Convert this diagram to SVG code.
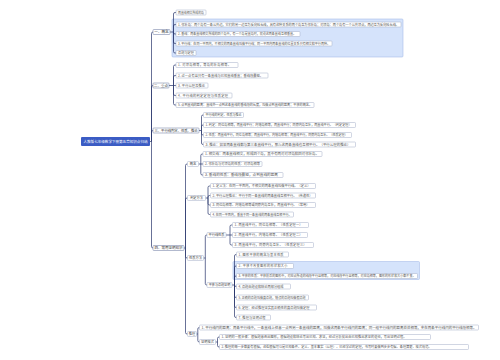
<svg xmlns="http://www.w3.org/2000/svg" width="500" height="360" viewBox="0 0 500 360">
<style>
.nd{fill:#fff;stroke:#a3acc6;stroke-width:0.5}
.br{fill:#fff;stroke:#7d89ad;stroke-width:0.6}
.t{font-family:"Noto Sans CJK SC","Noto Sans",sans-serif;font-size:3.2px;fill:#555}
.bt{font-family:"Noto Sans CJK SC","Noto Sans",sans-serif;font-size:3.6px;fill:#333;text-anchor:middle}
.lt{font-family:"Noto Sans CJK SC","Noto Sans",sans-serif;font-size:3.2px;fill:#444;text-anchor:middle}
.rt{font-family:"Noto Sans CJK SC","Noto Sans",sans-serif;font-size:3.6px;fill:#fff;text-anchor:middle}
.c{fill:none;stroke:#27346a;stroke-width:0.7}
.hl{fill:#d5e3fb;stroke:#a7bde9;stroke-width:0.6}
</style>
<rect width="500" height="360" fill="#fff"/>
<g id="highlights">
<rect class="hl" x="172" y="19" width="231" height="38" rx="1"/>
<rect class="hl" x="233" y="261.5" width="186.5" height="18" rx="1"/>
</g>
<g id="connectors">
<path class="c" d="M150,141.5 H151.5 M151.5,141.5 V33.5 Q151.5,32 153,32 M151.5,141.5 V87 Q151.5,85.5 153,85.5 M151.5,141.5 V132 Q151.5,130.5 153,130.5 M151.5,141.5 V246.5 Q151.5,248 153,248"/>
<path class="c" d="M170,32 H173.5 M173.5,32 V14 Q173.5,12.5 175,12.5 H176 M173.5,32 V26 Q173.5,24.5 175,24.5 H176 M173.5,32 V32.5 Q173.5,34 175,34 H176 M173.5,32 V42 Q173.5,43.5 175,43.5 H176 M173.5,32 V51.5 Q173.5,53 175,53 H176"/>
<path class="c" d="M169,85.5 H176 M173.5,85.5 V66.5 Q173.5,65 175,65 H176 M173.5,85.5 V77 Q173.5,75.5 175,75.5 H176 M173.5,85.5 V94 Q173.5,95.5 175,95.5 H176 M173.5,85.5 V103.5 Q173.5,105 175,105 H176"/>
<path class="c" d="M199,130.5 H201.5 M201.5,130.5 V116.5 Q201.5,115 203,115 H203.5 M201.5,130.5 V126.5 Q201.5,125 203,125 H203.5 M201.5,130.5 V133.5 Q201.5,135 203,135 H203.5 M201.5,130.5 V143 Q201.5,144.5 203,144.5 H203.5"/>
<path class="c" d="M184,248 H185.5 M185.5,248 V165.5 Q185.5,164 187,164 H187.5 M185.5,248 V199.5 Q185.5,198 187,198 H187.5 M185.5,248 V256.5 Q185.5,258 187,258 H187.5 M185.5,248 V332.5 Q185.5,334 187,334 H187.5"/>
<path class="c" d="M198.5,164 H203 M200.8,164 V155.5 Q200.8,154 202.3,154 H203 M200.8,164 V173.5 Q200.8,175 202.3,175 H203"/>
<path class="c" d="M205.5,198 H208 M208,198 V187.5 Q208,186 209.5,186 H210.5 M208,198 V197 Q208,195.5 209.5,195.5 H210.5 M208,198 V203.5 Q208,205 209.5,205 H210.5 M208,198 V213 Q208,214.5 209.5,214.5 H210.5"/>
<path class="c" d="M203.5,258 H205.3 M205.3,258 V236.5 Q205.3,235 206.8,235 H207 M205.3,258 V283.5 Q205.3,285 206.8,285 H207"/>
<path class="c" d="M226,235 H232.5 M230,235 V226.5 Q230,225 231.5,225 H232.5 M230,235 V243.5 Q230,245 231.5,245 H232.5"/>
<path class="c" d="M232,285 H234.5 M234.5,285 V256 Q234.5,254.5 236,254.5 H236.5 M234.5,285 V267.5 Q234.5,266 236,266 H236.5 M234.5,285 V277.5 Q234.5,276 236,276 H236.5 M234.5,285 Q234.5,286.5 236,286.5 H236.5 M234.5,285 V296 Q234.5,297.5 236,297.5 H236.5 M234.5,285 V306 Q234.5,307.5 236,307.5 H236.5 M234.5,285 V316 Q234.5,317.5 236,317.5 H236.5"/>
<path class="c" d="M196.5,334 H197.8 M197.8,334 V329 Q197.8,327.5 199.3,327.5 H199.5 M197.8,334 V340.5 Q197.8,342 199.3,342 H199.5"/>
<path class="c" d="M215.5,342 H217.5 M217.5,342 V338.5 Q217.5,337 219,337 H219.5 M217.5,342 V345.5 Q217.5,347 219,347 H219.5"/>
</g>
<g id="root"><rect x="81" y="137" width="69" height="9" rx="1" fill="#3b5cc4"/><text class="rt" x="115.5" y="142.8" textLength="64" lengthAdjust="spacingAndGlyphs">人教版七年级数学下册第五章知识点归纳</text></g>
<g id="b1"><rect class="br" x="153" y="29.5" width="17" height="5" rx="0.8"/><text class="bt" x="161.5" y="33.3">一、概念</text></g>
<g id="b1c1"><rect class="nd" x="176" y="10" width="30" height="5" rx="0.8"/><text class="t" x="178" y="13.65" textLength="26" lengthAdjust="spacingAndGlyphs">两直线相交所成的角</text></g>
<g id="b1c2"><rect class="nd" x="176" y="22" width="225" height="5" rx="0.8"/><text class="t" x="178" y="25.65" textLength="221" lengthAdjust="spacingAndGlyphs">1. 邻补角：两个角有一条公共边，它们的另一边互为反向延长线，具有这种关系的两个角互为邻补角；对顶角：两个角有一个公共顶点，两边互为反向延长线。</text></g>
<g id="b1c3"><rect class="nd" x="176" y="31.5" width="124" height="5" rx="0.8"/><text class="t" x="178" y="35.15" textLength="118" lengthAdjust="spacingAndGlyphs">2. 垂线：两条直线相交所成的四个角中，有一个角是直角时，就说这两条直线互相垂直。</text></g>
<g id="b1c4"><rect class="nd" x="176" y="41" width="156" height="5" rx="0.8"/><text class="t" x="178" y="44.65" textLength="152" lengthAdjust="spacingAndGlyphs">3. 平行线：在同一平面内，不相交的两条直线叫做平行线；同一平面内两条直线的位置关系只有相交和平行两种。</text></g>
<g id="b1c5"><rect class="nd" x="176" y="50.5" width="20" height="5" rx="0.8"/><text class="t" x="178" y="54.15" textLength="16" lengthAdjust="spacingAndGlyphs">命题与定理</text></g>
<g id="b2"><rect class="br" x="153" y="83" width="16" height="5" rx="0.8"/><text class="bt" x="161" y="86.8">二、重点</text></g>
<g id="b2c1"><rect class="nd" x="176" y="62.5" width="62" height="5" rx="0.8"/><text class="t" x="178" y="66.15" textLength="53">1. 对顶角相等，等角的补角相等。</text></g>
<g id="b2c2"><rect class="nd" x="176" y="73" width="92" height="5" rx="0.8"/><text class="t" x="178" y="76.65" textLength="85">2. 过一点有且只有一条直线与已知直线垂直；垂线段最短。</text></g>
<g id="b2c3"><rect class="nd" x="176" y="83" width="32" height="5" rx="0.8"/><text class="t" x="178" y="86.65" textLength="27">3. 平行公理及推论</text></g>
<g id="b2c4"><rect class="nd" x="176" y="93" width="56" height="5" rx="0.8"/><text class="t" x="178" y="96.65" textLength="50">4. 平行线的判定定理与性质定理</text></g>
<g id="b2c5"><rect class="nd" x="176" y="102.5" width="138" height="5" rx="0.8"/><text class="t" x="178" y="106.15" textLength="134" lengthAdjust="spacingAndGlyphs">5. 点到直线的距离：直线外一点到这条直线的垂线段的长度，叫做点到直线的距离；平移的概念。</text></g>
<g id="b3"><rect class="br" x="153" y="128" width="46" height="5" rx="0.8"/><text class="bt" x="176" y="131.8" textLength="43" lengthAdjust="spacingAndGlyphs">三、平行线判定、性质、推论</text></g>
<g id="b3c1"><rect class="nd" x="203.5" y="112.5" width="40" height="5" rx="0.8"/><text class="t" x="205.5" y="116.15" textLength="36" lengthAdjust="spacingAndGlyphs">平行线的判定、性质与推论</text></g>
<g id="b3c2"><rect class="nd" x="203.5" y="122.5" width="152" height="5" rx="0.8"/><text class="t" x="205.5" y="126.15" textLength="146" lengthAdjust="spacingAndGlyphs">1. 判定：同位角相等，两直线平行；内错角相等，两直线平行；同旁内角互补，两直线平行。（判定定理）</text></g>
<g id="b3c3"><rect class="nd" x="203.5" y="132.5" width="148" height="5" rx="0.8"/><text class="t" x="205.5" y="136.15" textLength="142" lengthAdjust="spacingAndGlyphs">2. 性质：两直线平行，同位角相等；两直线平行，内错角相等；两直线平行，同旁内角互补。（性质定理）</text></g>
<g id="b3c4"><rect class="nd" x="203.5" y="142" width="152" height="5" rx="0.8"/><text class="t" x="205.5" y="145.65" textLength="145" lengthAdjust="spacingAndGlyphs">3. 推论：如果两条直线都与第三条直线平行，那么这两条直线也互相平行。（平行公理的推论）</text></g>
<g id="b4"><rect class="br" x="153" y="245.5" width="31" height="5" rx="0.8"/><text class="bt" x="168.5" y="249.3" textLength="28" lengthAdjust="spacingAndGlyphs">四、常用证明知识</text></g>
<g id="b4a"><rect class="nd" x="187.5" y="161.5" width="11" height="5" rx="0.8"/><text class="lt" x="193" y="165.15">概念</text></g>
<g id="b4a1"><rect class="nd" x="203" y="151.5" width="119" height="5" rx="0.8"/><text class="t" x="205" y="155.15" textLength="114" lengthAdjust="spacingAndGlyphs">1. 相交线：两条直线相交，形成四个角，其中有两对对顶角和四对邻补角。</text></g>
<g id="b4a2"><rect class="nd" x="203" y="161.5" width="59" height="5" rx="0.8"/><text class="t" x="205" y="165.15" textLength="55" lengthAdjust="spacingAndGlyphs">2. 邻补角与对顶角的性质：对顶角相等</text></g>
<g id="b4a3"><rect class="nd" x="203" y="172.5" width="80" height="5" rx="0.8"/><text class="t" x="205" y="176.15" textLength="73" lengthAdjust="spacingAndGlyphs">3. 垂线的性质：垂线段最短，点到直线的距离</text></g>
<g id="b4b"><rect class="nd" x="187.5" y="195.5" width="18" height="5" rx="0.8"/><text class="lt" x="196.5" y="199.15">判定方法</text></g>
<g id="b4b1"><rect class="nd" x="210.5" y="183.5" width="105" height="5" rx="0.8"/><text class="t" x="212.5" y="187.15" textLength="98" lengthAdjust="spacingAndGlyphs">1. 定义法：在同一平面内，不相交的两条直线叫做平行线。（定义）</text></g>
<g id="b4b2"><rect class="nd" x="210.5" y="193" width="105" height="5" rx="0.8"/><text class="t" x="212.5" y="196.65" textLength="100" lengthAdjust="spacingAndGlyphs">2. 平行公理推论：平行于同一条直线的两条直线互相平行。（传递性）</text></g>
<g id="b4b3"><rect class="nd" x="210.5" y="202.5" width="105" height="5" rx="0.8"/><text class="t" x="212.5" y="206.15" textLength="97" lengthAdjust="spacingAndGlyphs">3. 同位角相等、内错角相等或同旁内角互补，两直线平行。（常用）</text></g>
<g id="b4b4"><rect class="nd" x="210.5" y="212" width="83" height="5" rx="0.8"/><text class="t" x="212.5" y="215.65" textLength="79" lengthAdjust="spacingAndGlyphs">4. 在同一平面内，垂直于同一条直线的两条直线互相平行。</text></g>
<g id="b4c"><rect class="nd" x="187.5" y="255.5" width="16" height="5" rx="0.8"/><text class="lt" x="195.5" y="259.15" textLength="13" lengthAdjust="spacingAndGlyphs">性质方法</text></g>
<g id="b4c1"><rect class="nd" x="207" y="232.5" width="19" height="5" rx="0.8"/><text class="lt" x="216.5" y="236.15" textLength="16" lengthAdjust="spacingAndGlyphs">平行线性质</text></g>
<g id="b4c1a"><rect class="nd" x="232.5" y="222.5" width="76" height="5" rx="0.8"/><text class="t" x="234.5" y="226.15" textLength="68">1. 两直线平行，同位角相等。（性质定理一）</text></g>
<g id="b4c1b"><rect class="nd" x="232.5" y="232.5" width="75" height="5" rx="0.8"/><text class="t" x="234.5" y="236.15" textLength="68">2. 两直线平行，内错角相等。（性质定理二）</text></g>
<g id="b4c1c"><rect class="nd" x="232.5" y="242.5" width="81" height="5" rx="0.8"/><text class="t" x="234.5" y="246.15" textLength="72">3. 两直线平行，同旁内角互补。（性质定理三）</text></g>
<g id="b4c2"><rect class="nd" x="207" y="282.5" width="25" height="5" rx="0.8"/><text class="lt" x="219.5" y="286.15" textLength="21.5" lengthAdjust="spacingAndGlyphs">平移与命题证明</text></g>
<g id="b4c2a"><rect class="nd" x="236.5" y="252" width="52" height="5" rx="0.8"/><text class="t" x="238.5" y="255.65" textLength="45">1. 图形平移的概念与基本性质</text></g>
<g id="b4c2b"><rect class="nd" x="236.5" y="263.5" width="57" height="5" rx="0.8"/><text class="t" x="238.5" y="267.15" textLength="49">2. 平移不改变图形的形状和大小</text></g>
<g id="b4c2c"><rect class="nd" x="236.5" y="273.5" width="181" height="5" rx="0.8"/><text class="t" x="238.5" y="277.15" textLength="177" lengthAdjust="spacingAndGlyphs">3. 平移的性质：平移前后的图形中，对应点所连的线段平行且相等，对应线段平行且相等，对应角相等，图形的形状和大小都不变。</text></g>
<g id="b4c2d"><rect class="nd" x="236.5" y="284" width="54" height="5" rx="0.8"/><text class="t" x="238.5" y="287.65" textLength="45">4. 命题由题设和结论两部分组成</text></g>
<g id="b4c2e"><rect class="nd" x="236.5" y="295" width="72" height="5" rx="0.8"/><text class="t" x="238.5" y="298.65" textLength="67" lengthAdjust="spacingAndGlyphs">5. 正确的命题叫做真命题，错误的命题叫做假命题</text></g>
<g id="b4c2f"><rect class="nd" x="236.5" y="305" width="80" height="5" rx="0.8"/><text class="t" x="238.5" y="308.65" textLength="71" lengthAdjust="spacingAndGlyphs">6. 定理：经过推理证实其正确性的真命题叫做定理</text></g>
<g id="b4c2g"><rect class="nd" x="236.5" y="315" width="34" height="5" rx="0.8"/><text class="t" x="238.5" y="318.65" textLength="27">7. 推理与证明过程</text></g>
<g id="b4d"><rect class="nd" x="187.5" y="331.5" width="9" height="5" rx="0.8"/><text class="lt" x="192" y="335.15">推理</text></g>
<g id="b4d1"><rect class="nd" x="199.5" y="325" width="279" height="5" rx="0.8"/><text class="t" x="201.5" y="328.65" textLength="275" lengthAdjust="spacingAndGlyphs">1. 平行线间的距离：两条平行线中，一条直线上任意一点到另一条直线的距离，叫做这两条平行线间的距离；同一组平行线间的距离处处相等，夹在两条平行线间的平行线段相等。</text></g>
<g id="b4d2"><rect class="nd" x="199.5" y="339.5" width="16" height="5" rx="0.8"/><text class="lt" x="207.5" y="343.15" textLength="12.8">证明格式</text></g>
<g id="b4d2a"><rect class="nd" x="219.5" y="334.5" width="211" height="5" rx="0.8"/><text class="t" x="221.5" y="338.15" textLength="185">1. 证明的一般步骤：根据题意画出图形，根据题设和结论写出已知、求证，经过分析找出由已知推出求证的途径，写出证明过程。</text></g>
<g id="b4d2b"><rect class="nd" x="219.5" y="344.5" width="249" height="5" rx="0.8"/><text class="t" x="221.5" y="348.15" textLength="210">2. 推理的每一步都要有根据，这些根据可以是已知条件、定义、基本事实（公理）、已经学过的定理，书写时要做到步步有据、条理清楚、格式规范。</text></g>
</svg>
